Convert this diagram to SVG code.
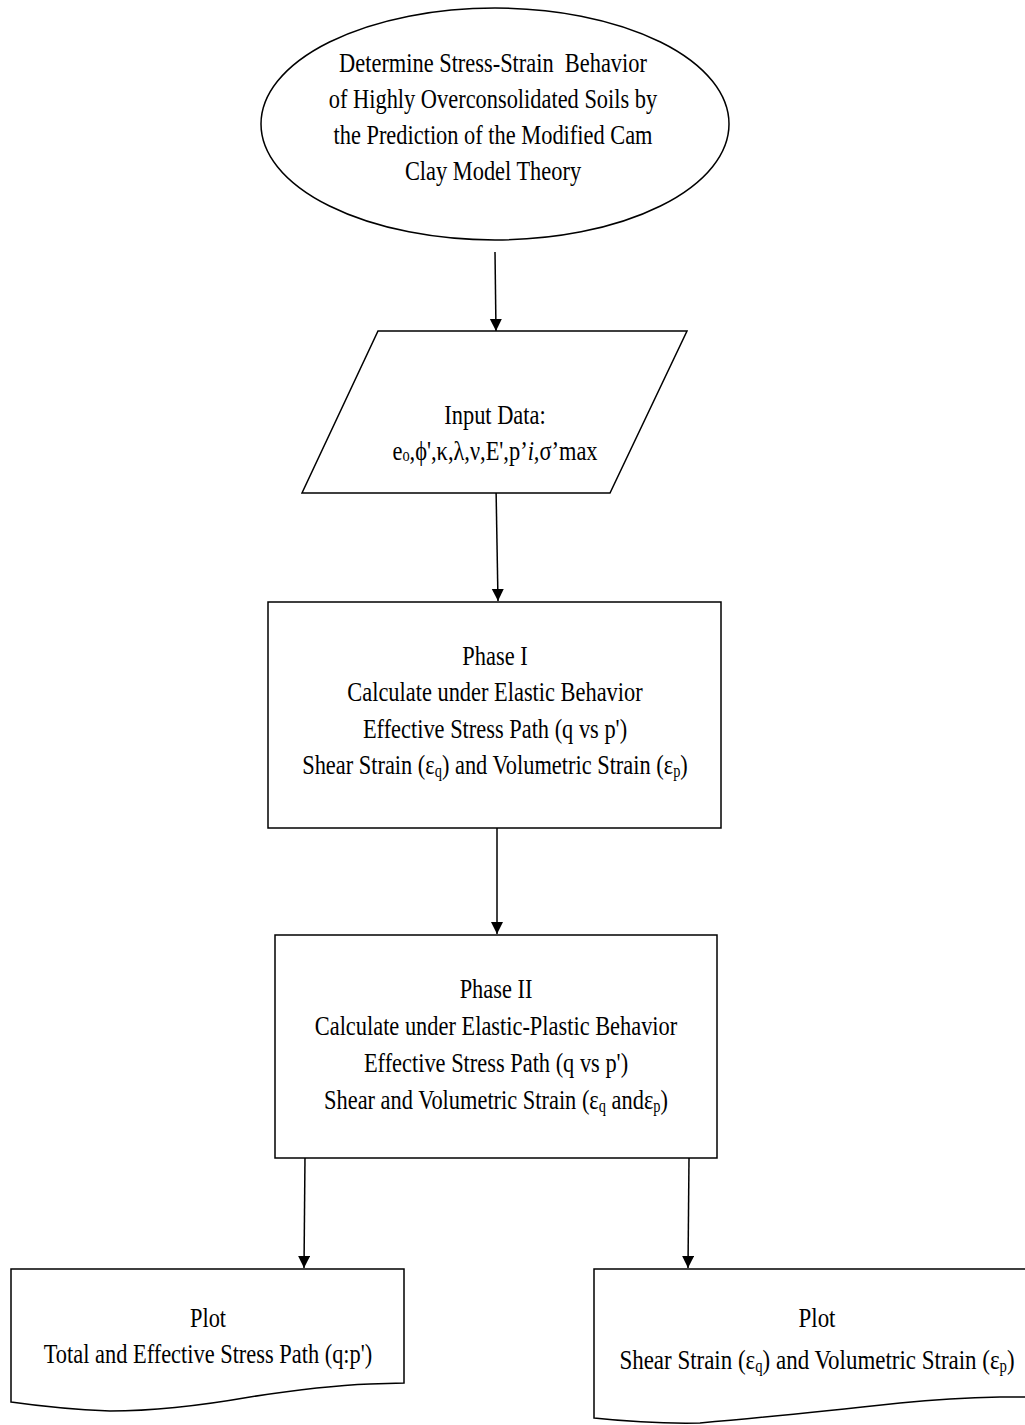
<svg xmlns="http://www.w3.org/2000/svg" width="1025" height="1425" viewBox="0 0 1025 1425">
<style>
.shape{fill:#fff;stroke:#000;stroke-width:1.5}
.con{fill:none;stroke:#000;stroke-width:1.5}
.t{font-family:"Liberation Serif","Times New Roman",serif;font-size:28px;text-anchor:middle;fill:#000}
.sub{font-size:18px}
</style>
<defs>
<marker id="ah" markerUnits="userSpaceOnUse" markerWidth="12" markerHeight="13" refX="12" refY="6" orient="auto">
<path d="M0,0 L12,6 L0,12 Z" fill="#000"/>
</marker>
</defs>
<rect width="1025" height="1425" fill="#fff"/>
<g id="connectors">
<line class="con" x1="495" y1="252" x2="496" y2="331" marker-end="url(#ah)"/>
<line class="con" x1="496" y1="486" x2="498" y2="601" marker-end="url(#ah)"/>
<line class="con" x1="497" y1="828" x2="497" y2="934" marker-end="url(#ah)"/>
<line class="con" x1="305" y1="1156" x2="304" y2="1268" marker-end="url(#ah)"/>
<line class="con" x1="689" y1="1158" x2="688" y2="1268" marker-end="url(#ah)"/>
</g>
<g id="start">
<ellipse class="shape" cx="495" cy="124" rx="234" ry="116"/>
<g class="t" transform="translate(493 0) scale(0.8 1)">
<text x="0" y="72">Determine Stress-Strain&#160; Behavior</text>
<text x="0" y="108">of Highly Overconsolidated Soils by</text>
<text x="0" y="144">the Prediction of the Modified Cam</text>
<text x="0" y="180">Clay Model Theory</text>
</g>
</g>
<g id="input">
<polygon class="shape" points="378,331 687,331 610,493 302,493"/>
<g class="t" transform="translate(495 0) scale(0.8 1)">
<text x="0" y="424">Input Data:</text>
<text x="0" y="460">e<tspan class="sub" dy="1">o</tspan><tspan dy="-1">,ϕ',κ,λ,ν,E',p’</tspan><tspan font-style="italic">i</tspan>,σ’max</text>
</g>
</g>
<g id="phase1">
<rect class="shape" x="268" y="602" width="453" height="226"/>
<g class="t" transform="translate(495 0) scale(0.8 1)">
<text x="0" y="665">Phase I</text>
<text x="0" y="701">Calculate under Elastic Behavior</text>
<text x="0" y="738">Effective Stress Path (q vs p')</text>
<text x="0" y="774">Shear Strain (ε<tspan class="sub" dy="3">q</tspan><tspan dy="-3">) and Volumetric Strain (ε</tspan><tspan class="sub" dy="3">p</tspan><tspan dy="-3">)</tspan></text>
</g>
</g>
<g id="phase2">
<rect class="shape" x="275" y="935" width="442" height="223"/>
<g class="t" transform="translate(496 0) scale(0.8 1)">
<text x="0" y="998">Phase II</text>
<text x="0" y="1035">Calculate under Elastic-Plastic Behavior</text>
<text x="0" y="1072">Effective Stress Path (q vs p')</text>
<text x="0" y="1109">Shear and Volumetric Strain (ε<tspan class="sub" dy="3">q</tspan><tspan dy="-3"> andε</tspan><tspan class="sub" dy="3">p</tspan><tspan dy="-3">)</tspan></text>
</g>
</g>
<g id="plot1">
<path class="shape" d="M11,1269 L404,1269 L404,1383 L370,1384 Q320,1386 250,1397 Q170,1411 110,1411 Q60,1409 11,1402 Z"/>
<g class="t" transform="translate(208 0) scale(0.8 1)">
<text x="0" y="1327">Plot</text>
<text x="0" y="1363">Total and Effective Stress Path (q:p')</text>
</g>
</g>
<g id="plot2">
<path class="shape" d="M594,1269 L1030,1269 L1030,1397 L1000,1397 Q950,1398 900,1403 Q780,1416 700,1423 Q650,1424 594,1418 Z"/>
<g class="t" transform="translate(817 0) scale(0.82 1)">
<text x="0" y="1327">Plot</text>
<text x="0" y="1369">Shear Strain (ε<tspan class="sub" dy="3">q</tspan><tspan dy="-3">) and Volumetric Strain (ε</tspan><tspan class="sub" dy="3">p</tspan><tspan dy="-3">)</tspan></text>
</g>
</g>
</svg>
